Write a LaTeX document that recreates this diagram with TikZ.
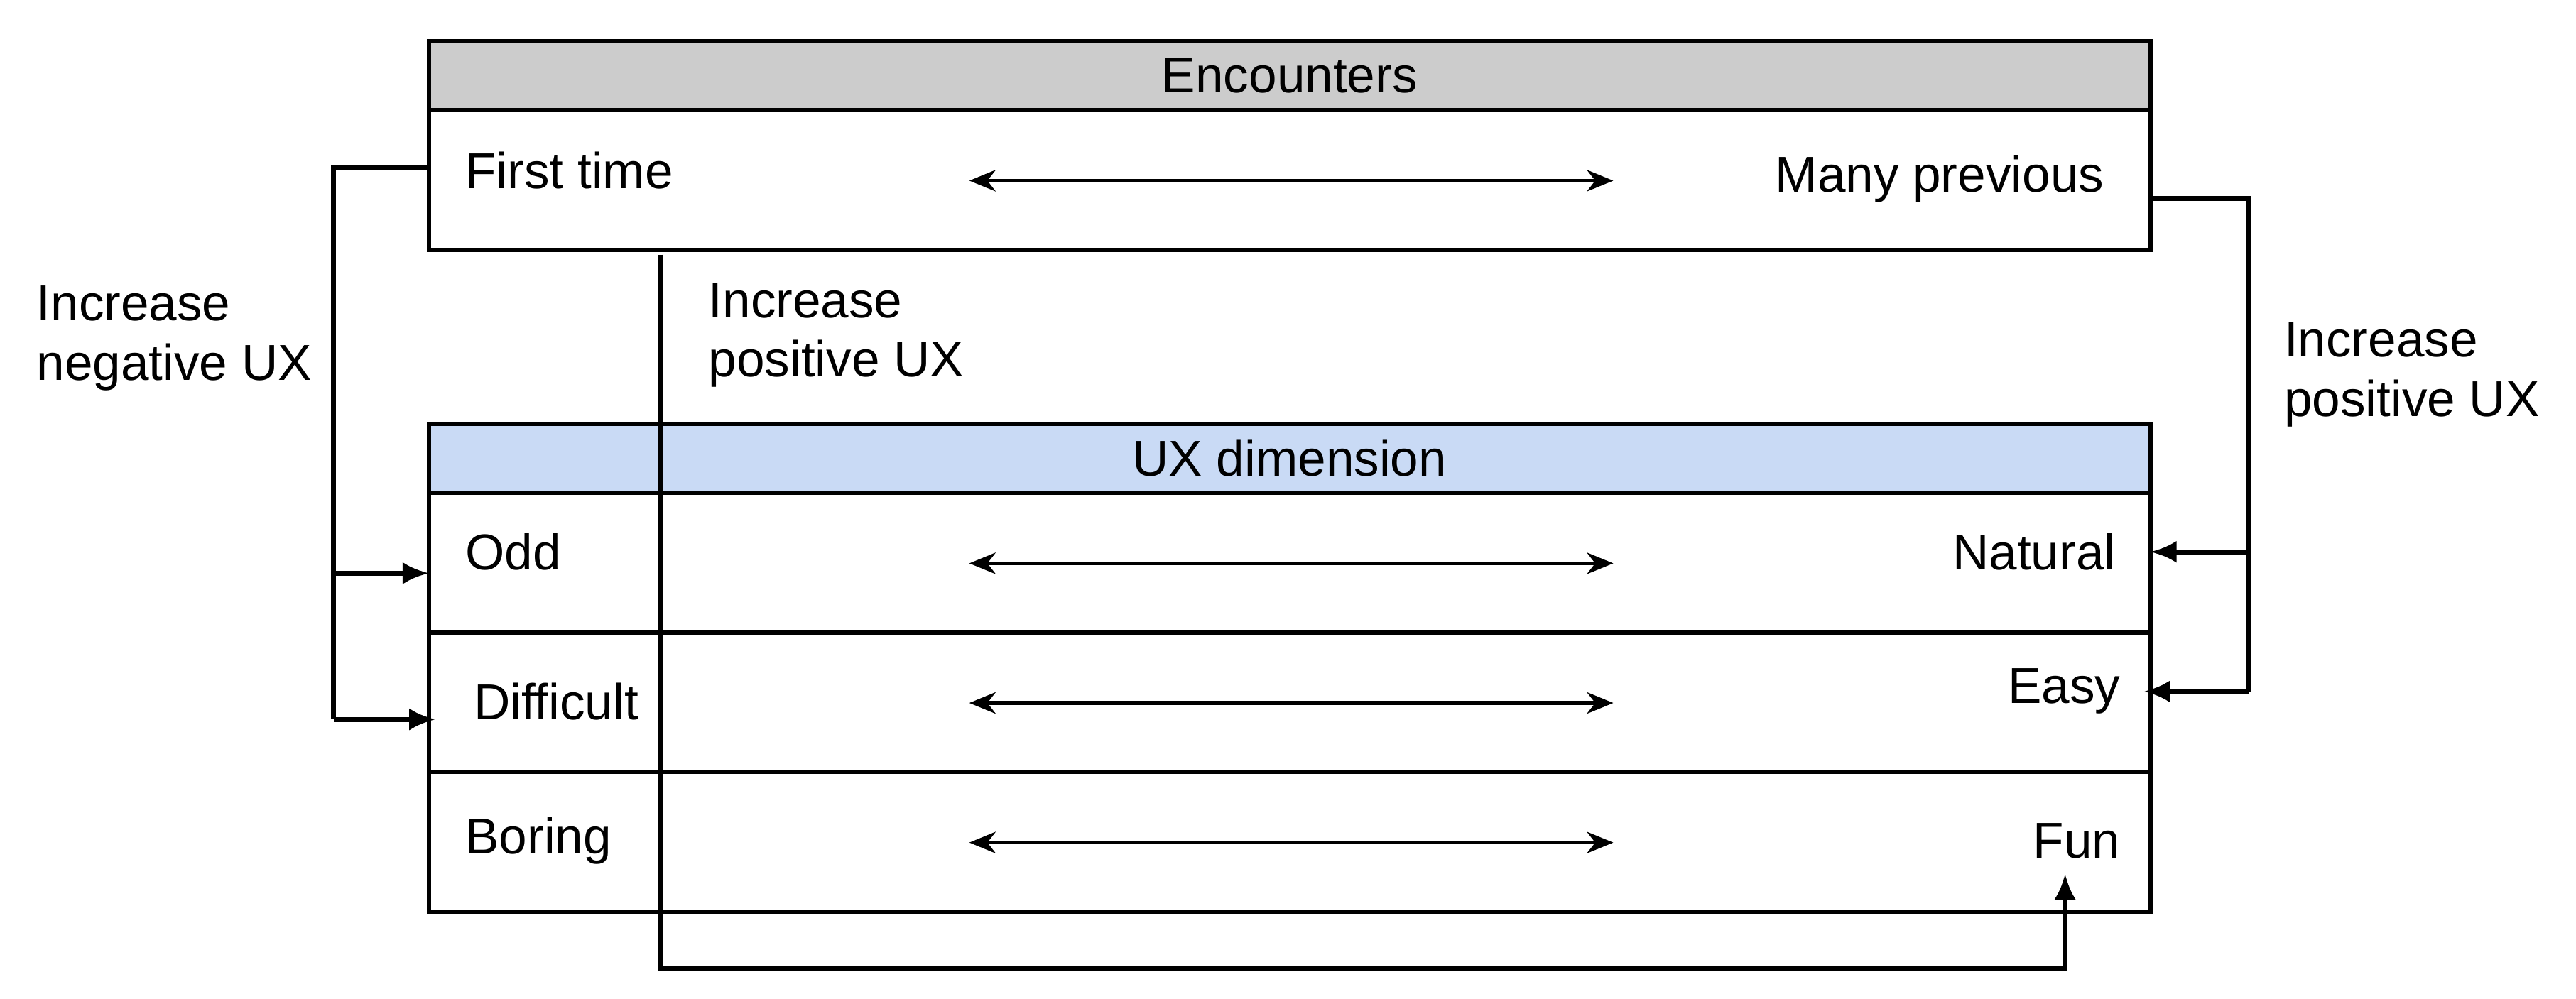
\documentclass[tikz,border=0pt]{standalone}
\usepackage{fontspec}
\setmainfont{Liberation Sans}
\usetikzlibrary{arrows.meta,positioning}

\definecolor{hdrgray}{RGB}{204,204,204}
\definecolor{hdrblue}{RGB}{201,218,245}

\tikzset{
	cell/.style={draw, line width=1.5pt, minimum width=20.96cm, outer sep=0pt, inner sep=0pt,
		font=\fontsize{17.5}{20.5}\selectfont},
	hdr/.style={cell, minimum height=0.84cm},
	rowbox/.style={cell, minimum height=1.7cm},
	lbl/.style={inner sep=0pt, font=\fontsize{17.5}{20.5}\selectfont},
	note/.style={lbl, align=left, anchor=west},
	conn/.style={line width=1.7pt},
	arr/.style={conn, -{Latex[length=3.2mm,width=2.7mm]}},
	dbl/.style={line width=1.3pt, {Stealth[length=3.2mm,width=2.6mm,inset=1mm]}-{Stealth[length=3.2mm,width=2.6mm,inset=1mm]}}
}

\begin{document}
\begin{tikzpicture}[x=0.02cm,y=-0.02cm]
	
	\useasboundingbox (0,0) rectangle (1568,608);
	
	% Encounters box
	\node[hdr, fill=hdrgray] (enc) at (785,46) {Encounters};
	\node[rowbox, below=0pt of enc] (encrow) {};
	
	% UX dimension table
	\node[hdr, fill=hdrblue] (uxhdr) at (785,279) {UX dimension};
	\node[rowbox, below=0pt of uxhdr] (oddrow) {};
	\node[rowbox, below=0pt of oddrow] (diffrow) {};
	\node[rowbox, below=0pt of diffrow] (borrow) {};
	
	% Row labels
	\node[lbl, anchor=west] (first) at (283,104) {First time};
	\node[lbl, anchor=east] (many) at (1281,109) {Many previous};
	\node[lbl, anchor=west] (odd) at (283,336) {Odd};
	\node[lbl, anchor=east] (natural) at (1288,336) {Natural};
	\node[lbl, anchor=west] (difficult) at (288,427) {Difficult};
	\node[lbl, anchor=east] (easy) at (1291,421) {Easy};
	\node[lbl, anchor=west] (boring) at (283,512) {Boring};
	\node[lbl, anchor=east] (fun) at (1291,512) {Fun};
	
	% Scales
	\foreach \yy in {110,343,428,513}
	\draw[dbl] (590,\yy) -- (982,\yy);
	
	% Side notes
	\node[note] (negnote) at (22,206) {Increase\\negative UX};
	\node[note] (posmid) at (431,204) {Increase\\positive UX};
	\node[note] (posright) at (1390,228) {Increase\\positive UX};
	
	% Left connector: first time -> odd, difficult
	\coordinate (lb1) at (203,349);
	\coordinate (lb2) at (203,438);
	\draw[conn] ([yshift=0.15cm]encrow.west) -| (lb2);
	\draw[arr] (lb1) -- (lb1 -| oddrow.west);
	\draw[arr] (lb2) -- ([xshift=0.08cm]lb2 -| diffrow.west);
	
	% Right connector: many previous -> natural, easy
	\coordinate (rb1) at (1369,336);
	\coordinate (rb2) at (1369,421);
	\draw[conn] ([yshift=-0.23cm]encrow.east) -| (rb2);
	\draw[arr] (rb1) -- (rb1 -| oddrow.east);
	\draw[arr] (rb2) -- ([xshift=-0.08cm]rb2 -| diffrow.east);
	
	% Middle connector down to fun
	\coordinate (vtop) at (402,155);
	\coordinate (vbot) at (402,590);
	\coordinate (funin) at (1257,532);
	\draw[arr] (vtop) -- (vbot) -| (funin);
	
\end{tikzpicture}
\end{document}
